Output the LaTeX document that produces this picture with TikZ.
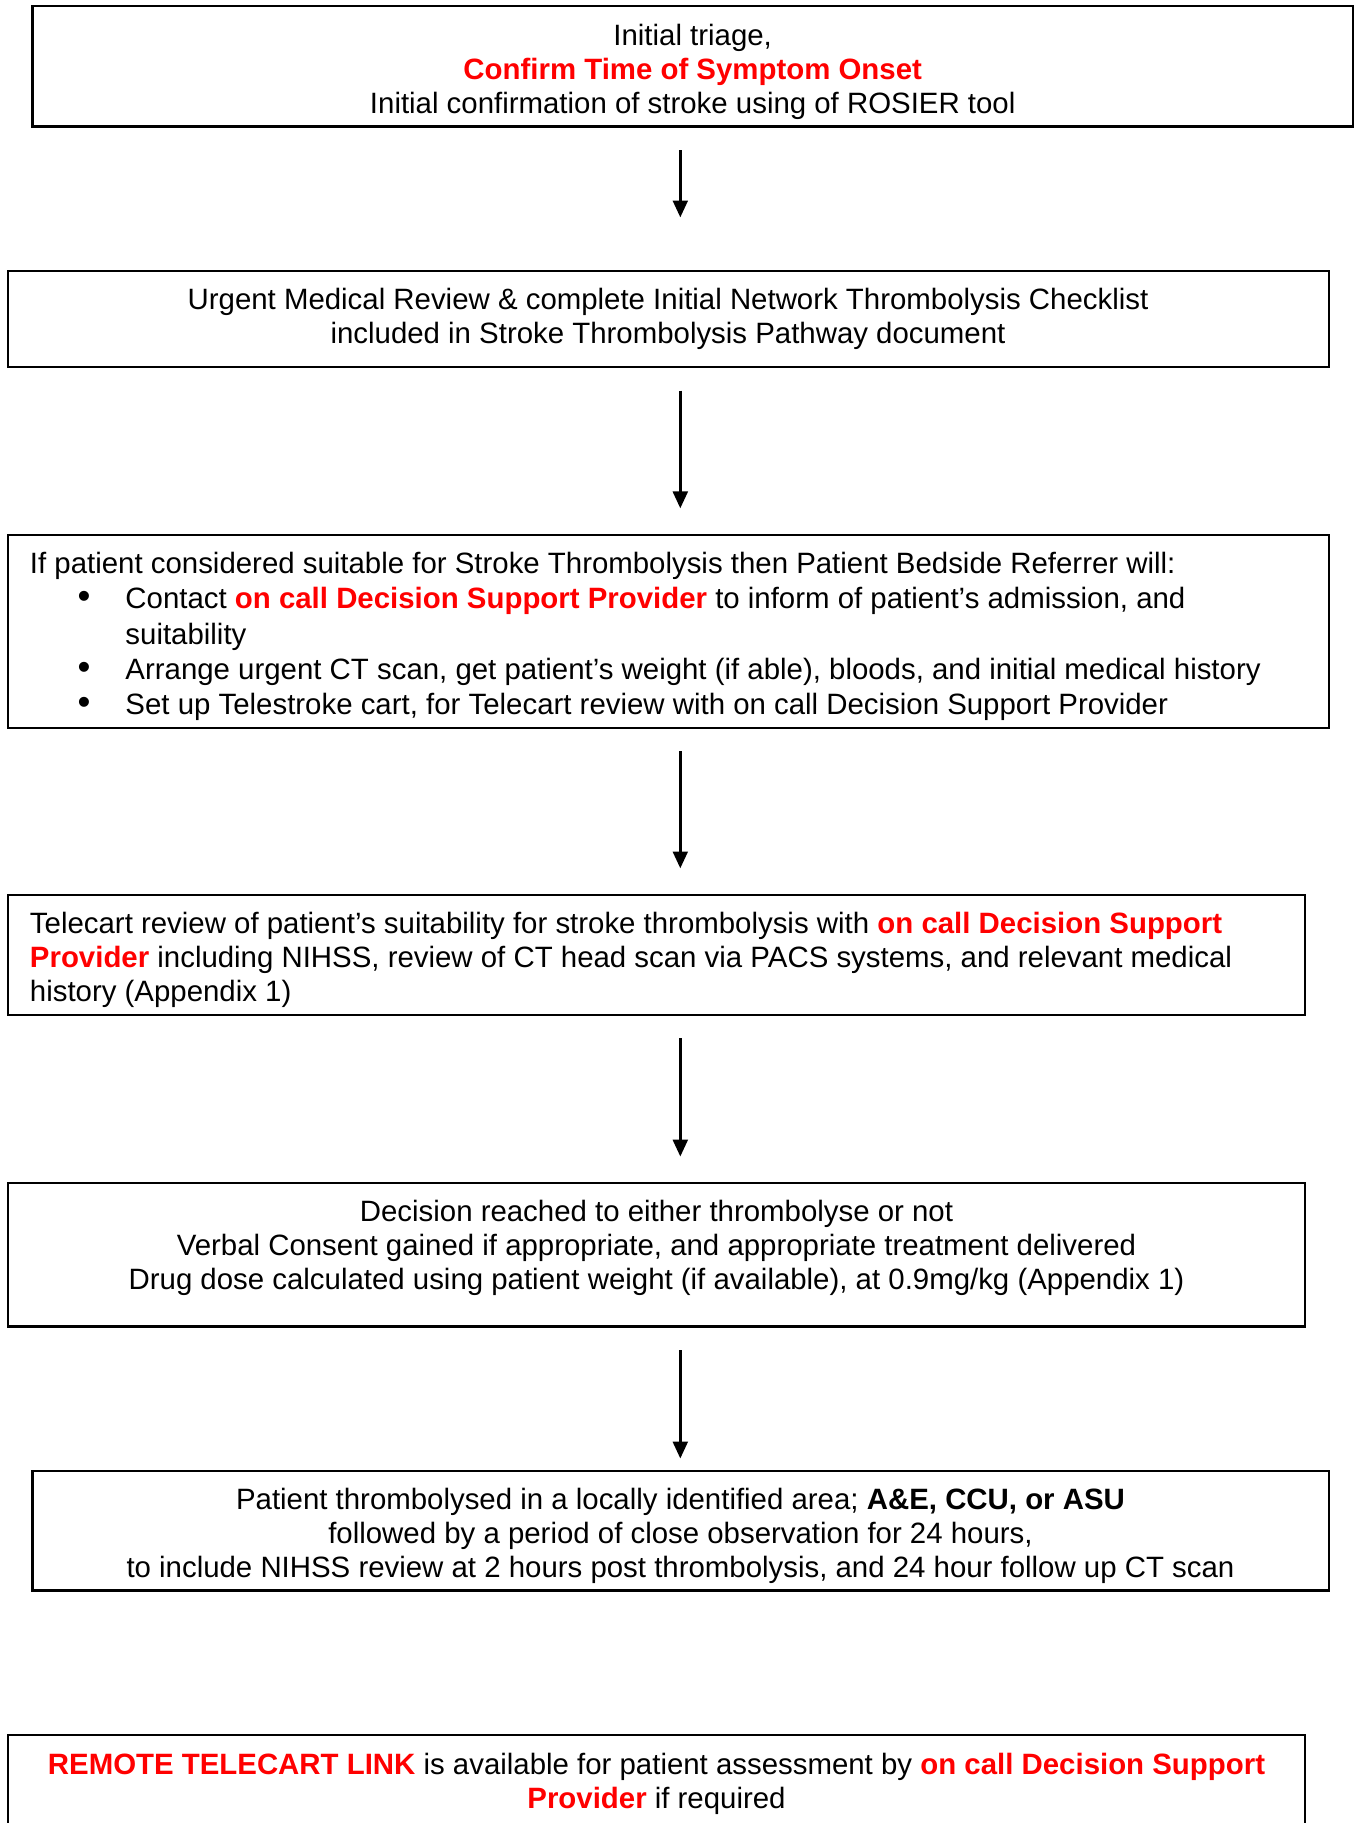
\documentclass[tikz,border=0pt]{standalone}
\usepackage{fontspec}
\usepackage{graphicx}
\setmainfont{Liberation Sans}
\usetikzlibrary{arrows.meta,fit}
\definecolor{alertred}{RGB}{255,0,0}
\newcommand\hl[1]{\textcolor{alertred}{\bfseries #1}}
\newcommand\bul{\hspace*{22.5pt}\makebox[0pt]{\scalebox{1.25}{\textbullet}}\hspace*{17.3pt}}
\tikzset{
  box/.style={draw=black, line width=0.85pt, inner sep=0pt, fill=none},
  txt/.style={inner sep=0pt, font=\fontsize{12.25pt}{14.2pt}\selectfont},
  arr/.style={-{Triangle[width=6.2pt,length=7pt]}, line width=1pt, shorten <=9.5pt}
}
\begin{document}
\begin{tikzpicture}[x=0.416667pt, y=-0.416667pt]
\clip (0,0) rectangle (1354,1823);
\fill[white] (0,0) rectangle (1354,1823);

% boxes
\node[box, fit={(32.5,6) (1353,126.5)}] (b1) {};
\node[box, fit={(8,270.7) (1328.5,366.7)}] (b2) {};
\node[box, fit={(8,535) (1328.5,727.6)}] (b3) {};
\node[box, fit={(8,895) (1305,1014.6)}] (b4) {};
\node[box, fit={(8,1183.2) (1305,1326.5)}] (b5) {};
\node[box, fit={(32.5,1471) (1328.5,1590.5)}] (b6) {};
\node[box, fit={(8,1735) (1305,1850)}] (b7) {};

% texts
\node[txt, align=center] (t1) at (692.7,72) {Initial triage,\\
\hl{Confirm Time of Symptom Onset}\\
Initial confirmation of stroke using of ROSIER tool};

\node[txt, align=center] (t2) at (668,318.5) {Urgent Medical Review \& complete Initial Network Thrombolysis Checklist\\
included in Stroke Thrombolysis Pathway document};

\node[txt, align=left, anchor=west, font=\fontsize{12.25pt}{14.75pt}\selectfont] (t3) at (29.5,636.5) {If patient considered suitable for Stroke Thrombolysis then Patient Bedside Referrer will:\\
\bul Contact \hl{on call Decision Support Provider} to inform of patient’s admission, and\\
\hspace*{39.8pt}suitability\\
\bul Arrange urgent CT scan, get patient’s weight (if able), bloods, and initial medical history\\
\bul Set up Telestroke cart, for Telecart review with on call Decision Support Provider};

\node[txt, align=left, anchor=west] (t4) at (29.5,959.5) {Telecart review of patient’s suitability for stroke thrombolysis with \hl{on call Decision Support}\\
\hl{Provider} including NIHSS, review of CT head scan via PACS systems, and relevant medical\\
history (Appendix 1)};

\node[txt, align=center] (t5) at (656.5,1248.3) {Decision reached to either thrombolyse or not\\
Verbal Consent gained if appropriate, and appropriate treatment delivered\\
Drug dose calculated using patient weight (if available), at 0.9mg/kg (Appendix 1)};

\node[txt, align=center] (t6) at (680.5,1536) {Patient thrombolysed in a locally identified area; \textbf{A\&E, CCU, or ASU}\\
followed by a period of close observation for 24 hours,\\
to include NIHSS review at 2 hours post thrombolysis, and 24 hour follow up CT scan};

\node[txt, align=center] (t7) at (656.5,1783.5) {\hl{REMOTE TELECART LINK} is available for patient assessment by \hl{on call Decision Support}\\
\hl{Provider} if required};

% arrows
\coordinate (ax) at (680.3,0);
\draw[arr, shorten >=21.8pt] (b1.south -| ax) -- (b2.north -| ax);
\draw[arr, shorten >=10.7pt] (b2.south -| ax) -- (b3.north -| ax);
\draw[arr, shorten >=10.7pt] (b3.south -| ax) -- (b4.north -| ax);
\draw[arr, shorten >=10.7pt] (b4.south -| ax) -- (b5.north -| ax);
\draw[arr, shorten >=4.8pt] (b5.south -| ax) -- (b6.north -| ax);
\end{tikzpicture}
\end{document}
